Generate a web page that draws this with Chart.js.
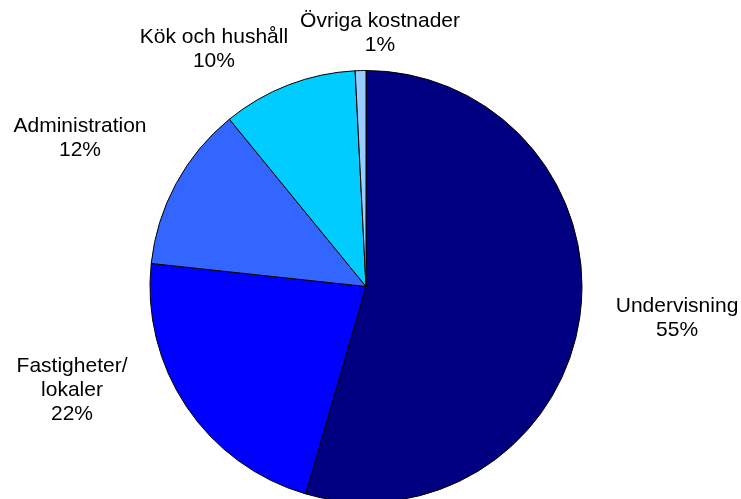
<!DOCTYPE html>
<html>
<head>
<meta charset="utf-8">
<script src="https://cdn.jsdelivr.net/npm/chart.js@4/dist/chart.umd.min.js"></script>
<style>
  html, body { margin: 0; padding: 0; background: #fff; overflow: hidden; }
  #wrap { width: 741px; height: 499px; overflow: hidden; }
</style>
</head>
<body>
<div id="wrap"><canvas id="pieChart" width="741" height="510"></canvas></div>
<script>
// kostnadsfördelning (andel i procent)
const categories = [
    ['Undervisning'],
    ['Fastigheter/', 'lokaler'],
    ['Administration'],
    ['Kök och hushåll'],
    ['Övriga kostnader']
];
const values = [54.5, 22.2, 12.4, 10.1, 0.8];
const percentLabels = ['55%', '22%', '12%', '10%', '1%'];

const sliceColors = ['#000080', '#0000FF', '#3366FF', '#00CCFF', '#99CCFF'];

// var etiketterna hamnar, relativt mittpunkten i enheter av radien
const labelOffsets = [
    [1.440, 0.148],
    [-1.361, 0.481],
    [-1.324, -0.688],
    [-0.704, -1.097],
    [0.065, -1.171]
];

const outsideLabels = {
    id: 'outsideLabels',
    afterDraw(chart) {
        const ctx = chart.ctx;
        const meta = chart.getDatasetMeta(0);
        ctx.save();
        ctx.font = '21px "Liberation Sans", Arial, sans-serif';
        ctx.fillStyle = '#000';
        ctx.textAlign = 'center';
        ctx.textBaseline = 'middle';
        const lineH = 24;
        meta.data.forEach((arc, i) => {
            const r = arc.outerRadius;
            const cx = arc.x + labelOffsets[i][0] * r;
            const cy = arc.y + labelOffsets[i][1] * r;
            const lines = categories[i].concat([percentLabels[i]]);
            const top = cy - (lines.length - 1) * lineH / 2;
            lines.forEach((t, k) => ctx.fillText(t, cx, top + k * lineH));
        });
        ctx.restore();
    }
};

const ctx = document.getElementById('pieChart').getContext('2d');
window.myChart = new Chart(ctx, {
    type: 'pie',
    data: {
        labels: categories.map(c => c.join(' ')),
        datasets: [{
            data: values,
            backgroundColor: sliceColors,
            borderColor: '#000',
            borderWidth: 1
        }]
    },
    options: {
        responsive: false,
        animation: false,
        layout: {
            padding: { left: 149, right: 158, top: 70, bottom: 7 }
        },
        plugins: {
            legend: { display: false },
            tooltip: { enabled: false }
        }
    },
    plugins: [outsideLabels]
});
</script>
</body>
</html>
